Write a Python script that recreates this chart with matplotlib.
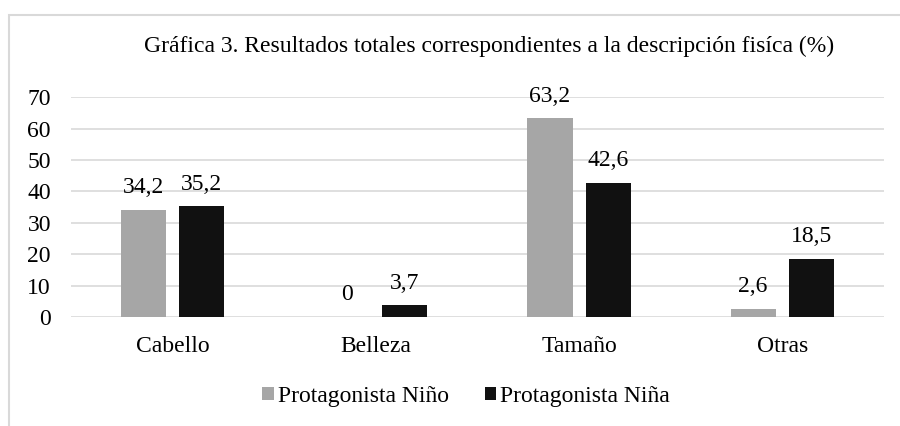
import numpy as np
from matplotlib import pyplot as plt
from matplotlib.patches import Rectangle

plt.rcParams['font.family'] = ['Liberation Serif', 'DejaVu Serif']

categorias = ['Cabello', 'Belleza', 'Tamaño', 'Otras']
nino = [34.2, 0, 63.2, 2.6]
nina = [35.2, 3.7, 42.6, 18.5]
series = ['Protagonista Niño', 'Protagonista Niña']
yticks = [0, 10, 20, 30, 40, 50, 60, 70]

fig = plt.figure(figsize=(9, 4.26), dpi=100)
ax = fig.add_axes([0.079, 0.256, 0.903, 0.516])

x = np.arange(len(categorias))
w = 0.222
off = (w + 0.064) / 2
b1 = ax.bar(x - off, nino, w, color='#a6a6a6', label=series[0], zorder=3)
b2 = ax.bar(x + off, nina, w, color='#111111', label=series[1], zorder=3)

def fmt(v):
    return ('%g' % v).replace('.', ',')

for bars, vals in [(b1, nino), (b2, nina)]:
    for r, v in zip(bars, vals):
        ax.annotate(fmt(v), (r.get_x() + r.get_width() / 2, v),
                    xytext=(0, 8.5), textcoords='offset points',
                    ha='center', va='bottom', fontsize=17)

ax.set_xlim(-0.5, len(categorias) - 0.5)
ax.set_ylim(0, 70)
ax.set_yticks(yticks)
ax.set_xticks(x)
ax.set_xticklabels(categorias)
ax.tick_params(axis='both', length=0, labelsize=17)
ax.tick_params(axis='y', pad=14.5)
ax.tick_params(axis='x', pad=14)
ax.yaxis.grid(True, color='#d9d9d9', linewidth=1.2, zorder=0)
for s in ax.spines.values():
    s.set_visible(False)

fig.text(0.543, 0.89, 'Gráfica 3. Resultados totales correspondientes a la descripción fisíca (%)',
         ha='center', va='center', fontsize=17)

leg = fig.legend(handles=[b1, b2], labels=series, loc='center', bbox_to_anchor=(0.518, 0.07),
                 ncol=2, frameon=False, fontsize=17, handlelength=0.5, handleheight=0.5,
                 handletextpad=0.17, columnspacing=1.5)

# borde del area del grafico
fig.patches.append(Rectangle((0.01, -0.1), 1.2, 1.065, transform=fig.transFigure,
                             fill=False, edgecolor='#d9d9d9', linewidth=1.5))

fig.savefig('out.png', dpi=100)
